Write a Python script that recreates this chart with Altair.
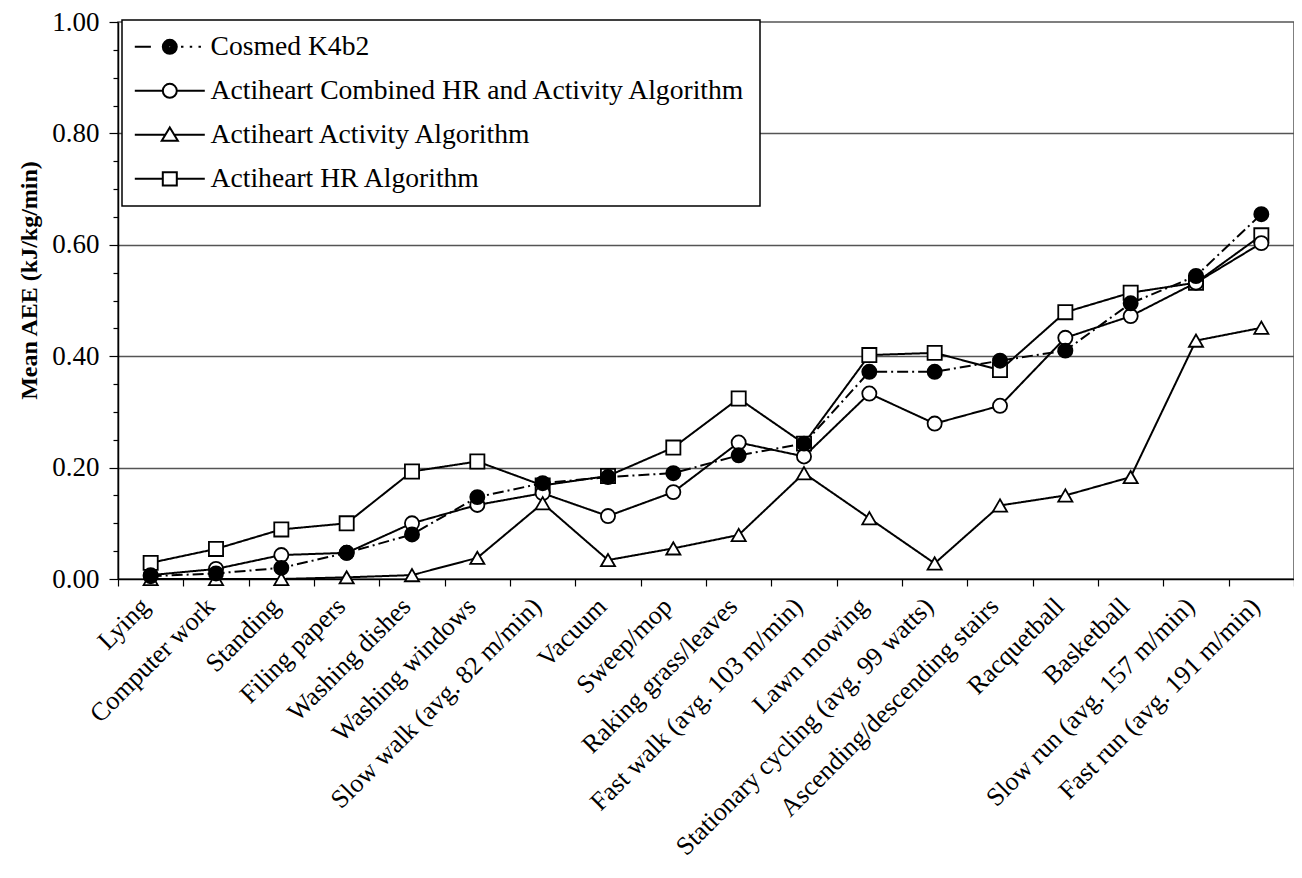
import altair as alt
import pandas as pd

categories = [
    "Lying", "Computer work", "Standing", "Filing papers", "Washing dishes",
    "Washing windows", "Slow walk (avg. 82 m/min)", "Vacuum", "Sweep/mop",
    "Raking grass/leaves", "Fast walk (avg. 103 m/min)", "Lawn mowing",
    "Stationary cycling (avg. 99 watts)", "Ascending/descending stairs",
    "Racquetball", "Basketball", "Slow run (avg. 157 m/min)", "Fast run (avg. 191 m/min)",
]
series_names = [
    "Cosmed K4b2",
    "Actiheart Combined HR and Activity Algorithm",
    "Actiheart Activity Algorithm",
    "Actiheart HR Algorithm",
]
cosmed = [0.005, 0.010, 0.020, 0.047, 0.080, 0.147, 0.172, 0.183, 0.190, 0.222, 0.243, 0.372,
          0.372, 0.392, 0.410, 0.495, 0.544, 0.655]
combined = [0.007, 0.018, 0.043, 0.047, 0.100, 0.133, 0.154, 0.113, 0.156, 0.245, 0.220, 0.333,
            0.279, 0.311, 0.433, 0.472, 0.532, 0.603]
activity = [0.000, 0.000, 0.000, 0.003, 0.007, 0.038, 0.136, 0.034, 0.055, 0.079, 0.190, 0.109,
            0.028, 0.132, 0.150, 0.183, 0.428, 0.451]
hr = [0.029, 0.054, 0.089, 0.100, 0.193, 0.211, 0.168, 0.185, 0.236, 0.324, 0.243, 0.402,
      0.406, 0.375, 0.479, 0.514, 0.532, 0.617]

series_values = [cosmed, combined, activity, hr]
draw_order = [3, 1, 2, 0]  # Cosmed points drawn last

rows = []
for k in draw_order:
    for c, v in zip(categories, series_values[k]):
        rows.append({"activity": c, "series": series_names[k], "value": v})
df = pd.DataFrame(rows)

FONT = "Liberation Serif"
major_test = "abs(datum.value*5 - round(datum.value*5)) < 0.001"


# legend glyphs: line segment with marker (path unit = sqrt(symbolSize)/2 px)
def ring(cx, r):
    return "M{a},0A{r},{r} 0 1,1 {b},0A{r},{r} 0 1,1 {a},0Z".format(a=round(cx - r, 3), b=round(cx + r, 3), r=r)


solid_disc = "".join(ring(3, r) for r in (1.0, 0.75, 0.5, 0.25, 0.08))
leg_paths = [
    "M-2,0L0.3,0" + solid_disc + "M4.6,0L4.95,0M5.85,0L6.2,0M7.1,0L7.45,0",
    "M-2,0L2,0M4,0L8,0" + ring(3, 1.0),
    "M-2,0L2.36,0M3.64,0L8,0M3,-1.05L4.15,0.85L1.85,0.85Z",
    "M-2,0L2,0M4,0L8,0M2,-0.95L4,-0.95L4,0.95L2,0.95Z",
]

x_enc = alt.X(
    "activity:N",
    sort=categories,
    bandPosition=0.5,
    scale=alt.Scale(type="band", paddingInner=0, paddingOuter=0, domain=categories),
    axis=alt.Axis(
        title=None,
        labelAngle=-45,
        labelAlign="right",
        labelBaseline="middle",
        labelFont=FONT,
        labelFontSize=26,
        labelColor="black",
        labelPadding=16,
        labelOffset=-6,
        labelLimit=1000,
        labelOverlap=False,
        tickBand="extent",
        tickSize=7,
        tickColor="black",
        tickWidth=1.2,
        domainColor="black",
        domainWidth=1.5,
        grid=False,
    ),
)

y_enc = alt.Y(
    "value:Q",
    scale=alt.Scale(domain=[0, 1], nice=False, zero=True),
    axis=alt.Axis(
        title="Mean AEE (kJ/kg/min)",
        titleFont=FONT,
        titleFontSize=24,
        titleFontWeight="bold",
        titleColor="black",
        titlePadding=10,
        titleY=258,
        values=[round(i * 0.05, 2) for i in range(21)],
        labelExpr=major_test + " ? format(datum.value, '.2f') : ''",
        labelFont=FONT,
        labelFontSize=27,
        labelColor="black",
        labelPadding=10,
        tickColor="black",
        tickWidth=1.2,
        tickSize={"condition": {"test": major_test, "value": 9}, "value": 5},
        domainColor="black",
        domainWidth=1.5,
        grid=True,
        gridColor="#555555",
        gridWidth=1.3,
        gridOpacity={"condition": {"test": major_test + " && datum.value > 0.01 && datum.value < 0.99", "value": 1}, "value": 0},
    ),
)

lines = alt.Chart(df).mark_line(color="black", strokeWidth=2).encode(
    x=x_enc,
    y=y_enc,
    detail="series:N",
    strokeDash=alt.StrokeDash(
        "series:N",
        scale=alt.Scale(domain=series_names, range=[[11, 4, 2, 4], [1, 0], [1, 0], [1, 0]]),
        legend=None,
    ),
)

points = alt.Chart(df).mark_point(filled=False, size=200, stroke="black", strokeWidth=1.8, opacity=1).encode(
    x=x_enc,
    y=y_enc,
    shape=alt.Shape(
        "series:N",
        scale=alt.Scale(domain=series_names, range=["circle", "circle", "triangle-up", "square"]),
        legend=None,
    ),
    fill=alt.Fill(
        "series:N",
        scale=alt.Scale(domain=series_names, range=["black", "white", "white", "white"]),
        legend=None,
    ),
)

legend_layer = alt.Chart(df).mark_point(filled=False, color="black", strokeWidth=2).encode(
    x=x_enc,
    y=y_enc,
    opacity=alt.value(0),
    shape=alt.Shape(
        "series:N",
        scale=alt.Scale(domain=series_names, range=leg_paths),
        legend=alt.Legend(
            title=None,
            orient="none",
            legendX=4,
            legendY=-2,
            strokeColor="black",
            fillColor="white",
            padding=13,
            labelFont=FONT,
            labelFontSize=27.6,
            labelColor="black",
            labelLimit=1000,
            labelOffset=48,
            symbolSize=196,
            symbolStrokeWidth=2,
            symbolStrokeColor="black",
            symbolOpacity=1,
            rowPadding=15,
        ),
    ),
)

chart = (
    alt.layer(lines, points, legend_layer)
    .resolve_scale(shape="independent", fill="independent", strokeDash="independent")
    .resolve_legend(shape="independent")
    .properties(
        width=1176,
        height=557,
        autosize=alt.AutoSizeParams(type="none"),
        padding={"left": 110, "top": 14, "right": 0, "bottom": 294},
        background="white",
    )
    .configure_view(stroke="#555555", strokeWidth=1.5)
    .configure_legend(strokeWidth=1.5)
)

chart.save("out.html", embed_options={"renderer": "svg", "actions": False})
